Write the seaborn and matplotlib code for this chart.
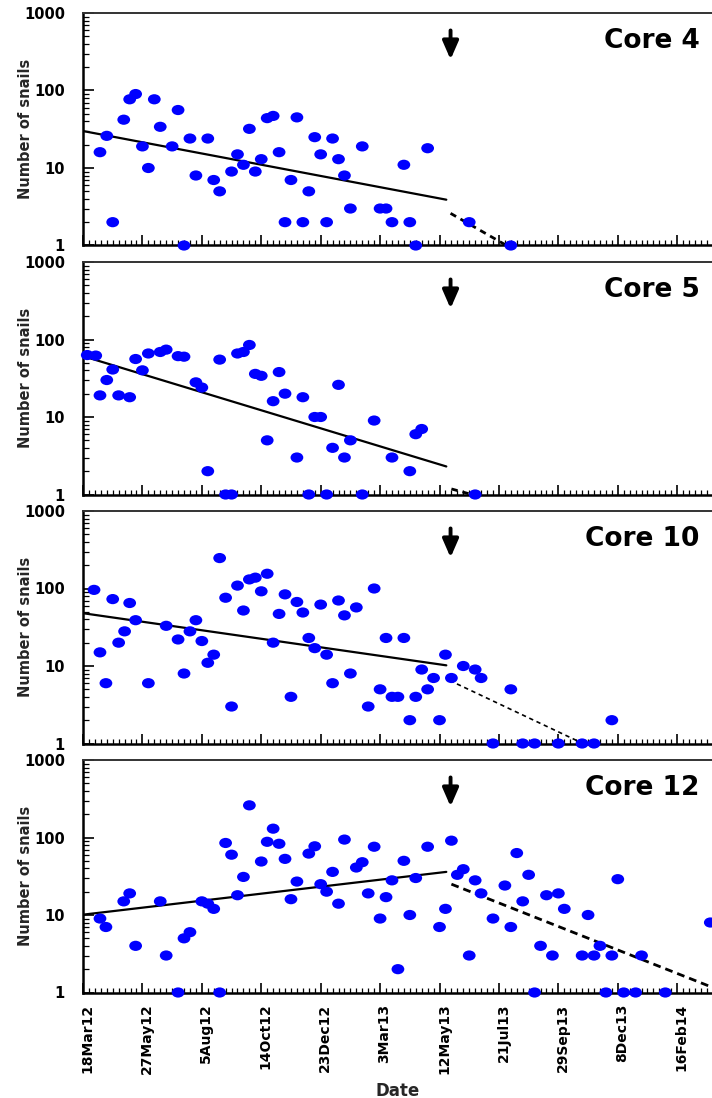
import numpy as np
import pandas as pd
import matplotlib
matplotlib.use("Agg")
import matplotlib.pyplot as plt
import matplotlib.dates as mdates
import seaborn as sns
from matplotlib.markers import MarkerStyle
from matplotlib.ticker import FixedLocator, LogLocator, NullFormatter
from matplotlib.transforms import ScaledTranslation, Affine2D

# ---------------- data (days since 18 Mar 2012, snail counts) ----------------
start_date = "2012-03-18"

core_names = ["Core 4", "Core 5", "Core 10", "Core 12"]

c4_day = [20, 28, 35, 48, 55, 62, 70, 77, 84, 91, 105, 112, 119, 126, 133, 147, 154, 161, 175, 182,
          189, 196, 203, 210, 217, 224, 231, 238, 245, 252, 259, 266, 273, 280, 287, 294, 301, 308, 315, 329,
          350, 357, 364, 378, 385, 392, 406, 455, 504]
c4_val = [16, 26, 2, 42, 77, 90, 19, 10, 77, 34, 19, 56, 1, 24, 8, 24, 7, 5, 9, 15,
          11, 32, 9, 13, 44, 47, 16, 2, 7, 45, 2, 5, 25, 15, 2, 24, 13, 8, 3, 19,
          3, 3, 2, 11, 2, 1, 18, 2, 1]

c5_day = [5, 15, 20, 28, 35, 42, 55, 62, 70, 77, 91, 98, 112, 119, 133, 140, 147, 161, 168, 175,
          182, 189, 196, 203, 210, 217, 224, 231, 238, 252, 259, 266, 273, 280, 287, 294, 301, 308, 315, 329,
          343, 364, 385, 392, 399, 462]
c5_val = [63, 62, 19, 30, 41, 19, 18, 56, 40, 66, 69, 74, 61, 60, 28, 24, 2, 55, 1, 1,
          66, 69, 85, 36, 34, 5, 16, 38, 20, 3, 18, 1, 10, 10, 1, 4, 26, 3, 5, 1,
          9, 3, 2, 6, 7, 1]

c10_day = [13, 20, 27, 35, 42, 49, 55, 62, 77, 98, 112, 119, 126, 133, 140, 147, 154, 161, 168, 175,
           182, 189, 196, 203, 210, 217, 224, 231, 238, 245, 252, 259, 266, 273, 280, 287, 294, 301, 308, 315,
           322, 336, 343, 350, 357, 364, 371, 378, 385, 392, 399, 406, 413, 420, 427, 434, 448, 462, 469, 483,
           504, 518, 532, 560, 588, 602, 623]
c10_val = [96, 15, 6, 73, 20, 28, 65, 39, 6, 33, 22, 8, 28, 39, 21, 11, 14, 247, 76, 3,
           109, 52, 131, 138, 92, 155, 20, 47, 84, 4, 67, 49, 23, 17, 62, 14, 6, 70, 45, 8,
           57, 3, 100, 5, 23, 4, 4, 23, 2, 4, 9, 5, 7, 2, 14, 7, 10, 9, 7, 1,
           5, 1, 1, 1, 1, 1, 2]

c12_day = [20, 27, 48, 55, 62, 91, 98, 112, 119, 126, 140, 147, 154, 161, 168, 175, 182, 189, 196, 210,
           217, 224, 231, 238, 245, 252, 266, 273, 280, 287, 294, 301, 308, 322, 329, 336, 343, 350, 357, 364,
           371, 378, 385, 392, 406, 420, 427, 434, 441, 448, 455, 462, 469, 483, 497, 504, 511, 518, 525, 532,
           539, 546, 553, 560, 567, 588, 595, 602, 609, 616, 623, 630, 637, 651, 658, 686, 739]
c12_val = [9, 7, 15, 19, 4, 15, 3, 1, 5, 6, 15, 14, 12, 1, 85, 60, 18, 31, 260, 49,
           88, 130, 83, 53, 16, 27, 62, 77, 25, 20, 36, 14, 94, 41, 48, 19, 76, 9, 17, 28,
           2, 50, 10, 30, 76, 7, 12, 91, 33, 39, 3, 28, 19, 9, 24, 7, 63, 15, 33, 1,
           4, 18, 3, 19, 12, 3, 10, 3, 4, 1, 3, 29, 1, 1, 3, 1, 8]

# fitted trends: before (solid) and after (dashed) the treatment
pre_fit_day = [[0, 428], [0, 428], [0, 428], [0, 428]]
pre_fit_val = [[30, 3.9], [61, 2.3], [48, 10.2], [10.1, 36]]
post_fit_day = [[433, 499], [434, 458], [432, 589], [434, 741]]
post_fit_val = [[2.6, 1.0], [1.18, 1.0], [6.5, 1.0], [25, 1.17]]

treatment_day = 433

tick_labels = ["18Mar12", "27May12", "5Aug12", "14Oct12", "23Dec12", "3Mar13",
               "12May13", "21Jul13", "29Sep13", "8Dec13", "16Feb14"]
x_end_day = 741

days_list = [c4_day, c5_day, c10_day, c12_day]
vals_list = [c4_val, c5_val, c10_val, c12_val]

# ---------------- styling ----------------
sns.set_theme(style="white")
plt.rcParams["font.family"] = ["DejaVu Sans"]
plt.rcParams["font.weight"] = "bold"
plt.rcParams["axes.labelweight"] = "bold"

t0 = pd.Timestamp(start_date)
def to_date(d):
    return t0 + pd.to_timedelta(np.asarray(d, dtype=float), unit="D")

dot = MarkerStyle("o", transform=Affine2D().scale(1.25, 1.0))

fig = plt.figure(figsize=(7.12, 10.98), dpi=100)
left = 83 / 712
width = 1.0 - left
tops_px = [13, 262, 511, 760]
h = 232.5 / 1098

tick_dates = pd.date_range(start_date, periods=len(tick_labels), freq="70D")
minor_dates = pd.date_range(start_date, to_date(x_end_day), freq="7D")

dash_styles = [(0, (2.3, 1.8)), (0, (2.3, 1.8)), (0, (2.6, 2.2)), (0, (2.8, 1.8))]
dash_lw = [2.0, 2.0, 1.2, 2.0]

for i in range(4):
    bottom = 1 - (tops_px[i] + 232.5) / 1098
    ax = fig.add_axes([left, bottom, width, h])
    df = pd.DataFrame({"date": to_date(days_list[i]), "n": vals_list[i]})
    sns.scatterplot(data=df, x="date", y="n", ax=ax, color="#0000FF", marker=dot,
                    s=54, edgecolor="none", linewidth=0, clip_on=False, zorder=3)
    pre = pd.DataFrame({"date": to_date(pre_fit_day[i]), "n": pre_fit_val[i]})
    sns.lineplot(data=pre, x="date", y="n", ax=ax, color="black", lw=1.6, errorbar=None, zorder=2)
    post = pd.DataFrame({"date": to_date(post_fit_day[i]), "n": post_fit_val[i]})
    sns.lineplot(data=post, x="date", y="n", ax=ax, color="black", lw=dash_lw[i], errorbar=None, zorder=2)
    ax.lines[-1].set_linestyle(dash_styles[i])

    ax.set_yscale("log")
    ax.set_ylim(1, 1000)
    ax.set_xlim(to_date(0), to_date(x_end_day))
    ax.set_yticks([1, 10, 100, 1000])
    ax.set_yticklabels(["1", "10", "100", "1000"], fontsize=10.5, fontweight="bold")
    ax.yaxis.set_minor_locator(LogLocator(base=10, subs=np.arange(2, 10)))
    ax.yaxis.set_minor_formatter(NullFormatter())
    ax.set_xticks(mdates.date2num(tick_dates))
    ax.xaxis.set_minor_locator(FixedLocator(mdates.date2num(minor_dates)))

    ax.tick_params(axis="both", which="both", direction="in", colors="black",
                   bottom=True, left=True, top=False, right=False)
    ax.tick_params(axis="y", which="major", length=8, width=1.2, pad=13)
    ax.tick_params(axis="y", which="minor", length=4, width=0.9)
    ax.tick_params(axis="x", which="major", length=7, width=1.2, pad=8)
    ax.tick_params(axis="x", which="minor", length=3.5, width=0.9)

    for side in ["left", "bottom"]:
        ax.spines[side].set_color("black")
        ax.spines[side].set_linewidth(1.8)
    ax.spines["top"].set_color("#333333")
    ax.spines["top"].set_linewidth(1.4)
    ax.spines["right"].set_visible(False)

    ax.set_ylabel("Number of snails", fontsize=10.5, fontweight="bold")
    ax.yaxis.set_label_coords(-0.08, 0.5)

    ax.text(0.98, 0.88, core_names[i], transform=ax.transAxes, ha="right", va="center",
            fontsize=19, fontweight="bold", color="black")

    ax.annotate("", xy=(mdates.date2num(to_date(treatment_day)), 0.80),
                xytext=(mdates.date2num(to_date(treatment_day)), 0.925),
                xycoords=("data", "axes fraction"), textcoords=("data", "axes fraction"),
                arrowprops=dict(arrowstyle="-|>,head_length=0.55,head_width=0.24", lw=2.8,
                                color="black", mutation_scale=20, shrinkA=0, shrinkB=0))

    if i == 3:
        ax.set_xticklabels(tick_labels, rotation=90, fontsize=10, fontweight="bold")
        off = ScaledTranslation(4.5 / 100, 0, fig.dpi_scale_trans)
        for lab in ax.get_xticklabels():
            lab.set_transform(lab.get_transform() + off)
        ax.set_xlabel("Date", fontsize=12, fontweight="bold")
        ax.xaxis.set_label_coords(0.5, -0.385)
    else:
        ax.set_xticklabels([])
        ax.set_xlabel("")

fig.savefig("out.png", dpi=100)
